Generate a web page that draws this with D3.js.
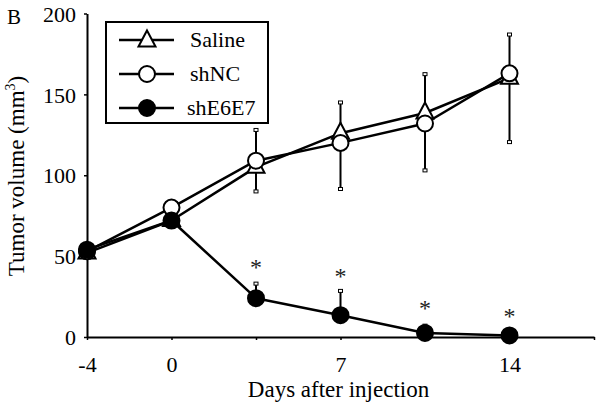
<!DOCTYPE html>
<html>
<head>
<meta charset="utf-8">
<script src="https://cdn.jsdelivr.net/npm/d3@7"></script>
<style>
  html, body { margin: 0; padding: 0; background: #fff; }
  svg { display: block; font-family: "Liberation Serif", "Times New Roman", serif; }
</style>
</head>
<body>
<svg id="chart" width="602" height="408"></svg>
<script>
// ---- data ----
const dayLabels = ["-4", "0", "", "7", "", "14"];
const saline    = [52, 72, 105, 126, 138.5, 160];
const salineErrPlus = [0, 0, 23, 19, 24, 27];
const shNC      = [53, 80, 109, 120, 132, 163];
const shNCErrMinus = [0, 0, 19, 28.5, 29, 42.5];
const shE6E7    = [54, 72, 24, 13.5, 2.5, 1];
const shE6E7ErrPlus = [0, 0, 9, 15, 4.5, 0];
const starLevel = [null, null, 45, 39.5, 20, 15];
const yTicks = [0, 50, 100, 150, 200];
const seriesNames = ["Saline", "shNC", "shE6E7"];

const svg = d3.select("#chart");
const x = d3.scaleLinear().domain([0, 6]).range([87, 594]);
const y = d3.scaleLinear().domain([0, 200]).range([337, 13.5]);

// ---- axes ----
const yAxis = d3.axisLeft(y).tickValues(yTicks).tickSizeInner(3).tickSizeOuter(0).tickPadding(8);
const gy = svg.append("g").attr("transform", `translate(${x(0)},0)`).call(yAxis);
gy.select(".domain").attr("stroke", "#000").attr("stroke-width", 2);
gy.selectAll(".tick line").attr("stroke", "#000").attr("stroke-width", 1.5);
gy.selectAll(".tick text").attr("font-size", 22).attr("fill", "#000")
  .attr("font-family", "Liberation Serif").attr("dy", "0.35em");

const xAxis = d3.axisBottom(x).tickValues(d3.range(0, 7)).tickSizeInner(3).tickSizeOuter(0)
  .tickPadding(16).tickFormat(i => dayLabels[i] || "");
const gx = svg.append("g").attr("transform", `translate(0,${y(0)})`).call(xAxis);
gx.select(".domain").attr("stroke", "#000").attr("stroke-width", 2);
gx.selectAll(".tick line").attr("stroke", "#000").attr("stroke-width", 1.5);
gx.selectAll(".tick text").attr("font-size", 22).attr("fill", "#000")
  .attr("font-family", "Liberation Serif");

// axis titles
svg.append("text").attr("x", 338.5).attr("y", 397).attr("text-anchor", "middle")
  .attr("font-size", 23).text("Days after injection");
const yt = svg.append("text").attr("transform", "translate(24,176) rotate(-90)")
  .attr("text-anchor", "middle").attr("font-size", 23);
yt.append("tspan").text("Tumor volume (mm");
yt.append("tspan").attr("font-size", 14).attr("dy", -9).text("3");
yt.append("tspan").attr("dy", 9).text(")");

svg.append("text").attr("x", 7).attr("y", 24).attr("font-size", 21).text("B");

// ---- error bars ----
const idx = d3.range(saline.length);
function errBars(vals, errs, sign) {
  idx.filter(i => errs[i] > 0).forEach(i => {
    const y1 = y(vals[i]), y2 = y(vals[i] + sign * errs[i]);
    svg.append("line").attr("x1", x(i)).attr("x2", x(i)).attr("y1", y1).attr("y2", y2)
      .attr("stroke", "#000").attr("stroke-width", 2);
    svg.append("rect").attr("x", x(i) - 2).attr("y", y2 - 1.5).attr("width", 4).attr("height", 3)
      .attr("fill", "#fff").attr("stroke", "#000").attr("stroke-width", 1);
  });
}
errBars(saline, salineErrPlus, 1);
errBars(shNC, shNCErrMinus, -1);
errBars(shE6E7, shE6E7ErrPlus, 1);

// ---- lines ----
const line = d3.line().x((d, i) => x(i)).y(d => y(d));
[saline, shNC, shE6E7].forEach(s => {
  svg.append("path").datum(s).attr("d", line).attr("fill", "none")
    .attr("stroke", "#000").attr("stroke-width", 2.5).attr("stroke-linejoin", "round");
});

// ---- markers ----
const triPath = "M0,-10.5L8.5,5.5L-8.5,5.5Z";
function tri(g, cx, cy) {
  g.append("path").attr("d", triPath).attr("transform", `translate(${cx},${cy})`)
    .attr("fill", "#fff").attr("stroke", "#000").attr("stroke-width", 2);
}
function circ(g, cx, cy, filled) {
  g.append("circle").attr("cx", cx).attr("cy", cy).attr("r", 8)
    .attr("fill", filled ? "#000" : "#fff").attr("stroke", "#000").attr("stroke-width", 2);
}
saline.forEach((v, i) => tri(svg, x(i), y(v)));
shNC.forEach((v, i) => circ(svg, x(i), y(v), false));
shE6E7.forEach((v, i) => circ(svg, x(i), y(v), true));

// ---- significance stars ----
starLevel.forEach((v, i) => {
  if (v == null) return;
  svg.append("text").attr("x", x(i)).attr("y", y(v) + 11).attr("text-anchor", "middle")
    .attr("font-size", 24).attr("fill", "#222").text("*");
});

// ---- legend ----
const lg = svg.append("g");
lg.append("rect").attr("x", 106).attr("y", 22).attr("width", 162).attr("height", 101)
  .attr("fill", "#fff").attr("stroke", "#000").attr("stroke-width", 2);
const rows = [40, 74, 108];
seriesNames.forEach((name, k) => {
  const cy = rows[k];
  lg.append("line").attr("x1", 119).attr("x2", 174).attr("y1", cy).attr("y2", cy)
    .attr("stroke", "#000").attr("stroke-width", 2.5);
  if (k === 0) tri(lg, 147, cy + 1);
  else circ(lg, 147, cy, k === 2);
  lg.append("text").attr("x", k === 2 ? 187 : 190).attr("y", cy + 7).attr("font-size", 22).text(name);
});
</script>
</body>
</html>
